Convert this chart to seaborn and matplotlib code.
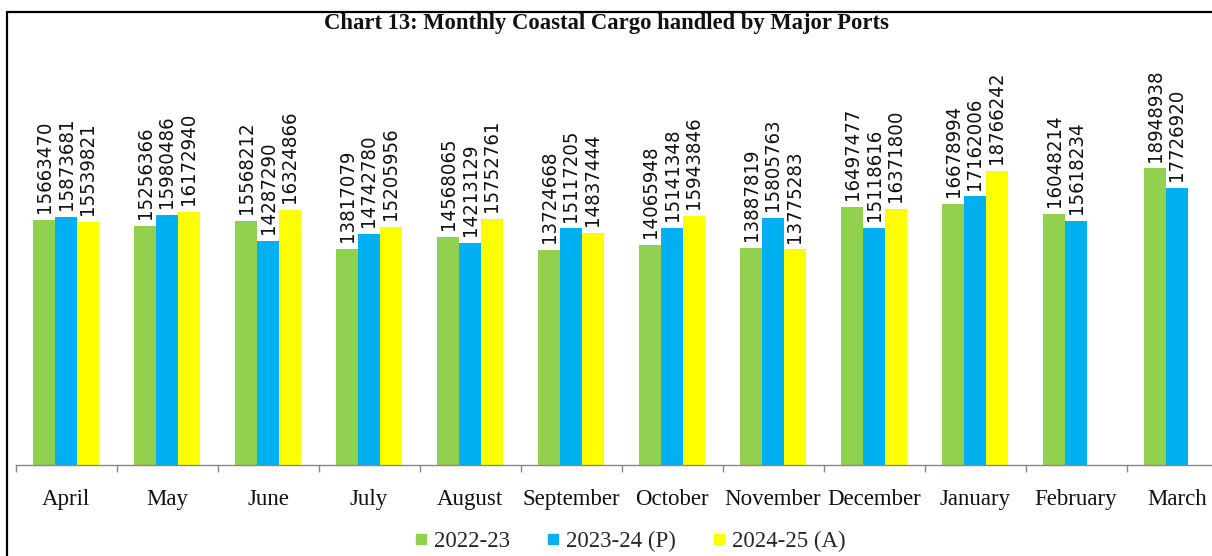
import numpy as np
import pandas as pd
import matplotlib
matplotlib.use("Agg")
import matplotlib.pyplot as plt
from matplotlib.lines import Line2D
import seaborn as sns

# Chart data
months = ["April", "May", "June", "July", "August", "September", "October",
          "November", "December", "January", "February", "March"]
series = ["2022-23", "2023-24 (P)", "2024-25 (A)"]
cargo_2022_23 = [15663470, 15256366, 15568212, 13817079, 14568065, 13724668,
                 14065948, 13887819, 16497477, 16678994, 16048214, 18948938]
cargo_2023_24 = [15873681, 15980486, 14287290, 14742780, 14213129, 15117205,
                 15141348, 15805763, 15118616, 17162006, 15618234, 17726920]
cargo_2024_25 = [15539821, 16172940, 16324866, 15205956, 15752761, 14837444,
                 15943846, 13775283, 16371800, 18766242]
colors = ["#92D050", "#00B0F0", "#FFFF00"]

rows = []
for name, vals in zip(series, [cargo_2022_23, cargo_2023_24, cargo_2024_25]):
    for m, v in zip(months, vals):
        rows.append({"Month": m, "Series": name, "Cargo": v})
df = pd.DataFrame(rows)

sns.set_theme(style="white")
plt.rcParams["font.family"] = ["Liberation Serif", "DejaVu Serif"]

fig = plt.figure(figsize=(12.12, 5.56), dpi=100)
ax = fig.add_axes([15.5 / 1212, 91 / 556, 1.0, 435 / 556])

sns.barplot(data=df, x="Month", y="Cargo", hue="Series", order=months,
            hue_order=series, palette=colors, width=0.65, saturation=1,
            errorbar=None, legend=False, linewidth=0, ax=ax)

for cont in ax.containers:
    ax.bar_label(cont, fmt="%d", rotation=90, padding=5, fontsize=14.6,
                 family="DejaVu Sans", fontstretch="condensed", color="#111111")

ax.set_xlim(-0.5, 11.5)
ax.set_ylim(0, 27.8e6)
ax.set_yticks([])
ax.set_ylabel("")
ax.set_xlabel("")
for s in ["top", "right", "left"]:
    ax.spines[s].set_visible(False)
ax.spines["bottom"].set_color("#888888")
ax.spines["bottom"].set_linewidth(1.0)

ax.set_xticks(np.arange(-0.5, 12, 1))
ax.set_xticklabels([])
ax.tick_params(axis="x", which="major", length=5, width=1, color="#888888",
               direction="out", bottom=True)
ax.set_xticks(range(12), minor=True)
ax.set_xticklabels(months, minor=True, fontsize=16.5, color="#111111")
ax.tick_params(axis="x", which="minor", length=0, pad=17)

fig.text(606 / 1212, 1 - 24 / 556, "Chart 13: Monthly Coastal Cargo handled by Major Ports",
         ha="center", va="center", fontsize=16.3, fontweight="bold", color="#111111")

handles = [Line2D([], [], marker="s", linestyle="none", markersize=7.5,
                  markerfacecolor=c, markeredgecolor=c) for c in colors]
fig.legend(handles, series, loc="center", bbox_to_anchor=(630 / 1212, 15 / 556),
           ncol=3, frameon=False, fontsize=16.5, handlelength=0.6,
           handletextpad=0.25, columnspacing=1.6)

# outer frame (left and top edges visible)
fig.add_artist(Line2D([7 / 1212, 7 / 1212], [0, 1 - 12 / 556], transform=fig.transFigure,
                      color="black", linewidth=1.6))
fig.add_artist(Line2D([7 / 1212, 1], [1 - 12 / 556, 1 - 12 / 556], transform=fig.transFigure,
                      color="black", linewidth=1.6))

fig.savefig("out.png", dpi=100)
plt.close(fig)
